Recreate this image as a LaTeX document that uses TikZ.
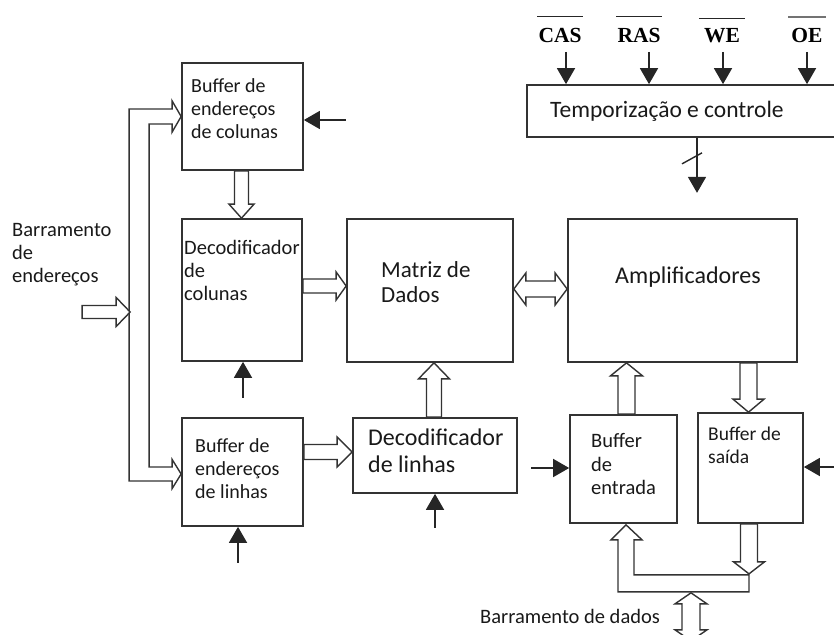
\documentclass[tikz,border=0pt]{standalone}
\usepackage{fontspec}
\setmainfont{Carlito}
\newfontfamily\sigfont{Liberation Serif}
\usetikzlibrary{arrows.meta,calc}

% hollow block arrow: tail, tip, shaft half-width, head half-width, head length
\newcommand\fatarrow[5]{%
  \coordinate (fa-hb) at ($(#2)!#5!(#1)$);
  \draw[fat] ($(#1)!#3!90:(#2)$) -- ($(fa-hb)!#3!90:(#2)$) -- ($(fa-hb)!#4!90:(#2)$) -- (#2)
    -- ($(fa-hb)!#4!-90:(#2)$) -- ($(fa-hb)!#3!-90:(#2)$) -- ($(#1)!#3!-90:(#2)$) -- cycle;}
% hollow block arrow with a head at both ends
\newcommand\fatdouble[5]{%
  \coordinate (fd-a) at ($(#1)!#5!(#2)$);
  \coordinate (fd-b) at ($(#2)!#5!(#1)$);
  \draw[fat] (#1) -- ($(fd-a)!#4!90:(#2)$) -- ($(fd-a)!#3!90:(#2)$) -- ($(fd-b)!#3!-90:(#1)$)
    -- ($(fd-b)!#4!-90:(#1)$) -- (#2) -- ($(fd-b)!#4!90:(#1)$) -- ($(fd-b)!#3!90:(#1)$)
    -- ($(fd-a)!#3!-90:(#2)$) -- ($(fd-a)!#4!-90:(#2)$) -- cycle;}
\newcommand\fsz[1]{\fontsize{#1}{#1}\selectfont}

\begin{document}
\begin{tikzpicture}[x=1pt,y=-1pt,
  blk/.style={draw=black!80, line width=1.7pt, fill=white, inner sep=0pt},
  fat/.style={draw=black!80, line width=1.4pt, fill=white, line join=miter},
  ctl/.style={draw=black!85, line width=1.6pt, -{Triangle[length=16pt,width=18pt]}},
  txt/.style={anchor=base west, inner sep=0pt, text=black!90},
  sig/.style={anchor=base, inner sep=0pt, font=\sigfont\bfseries\fsz{21.5}},
  bar/.style={draw=black!85, line width=1.4pt}]

\useasboundingbox (0,0) rectangle (834,634);
\clip (0,0) rectangle (834,634);

% blocks
\node[blk, minimum width=121pt, minimum height=107pt] (bcol) at (242.5,116.5) {};
\node[blk, minimum width=120pt, minimum height=142pt] (dcol) at (242,290) {};
\node[blk, minimum width=166pt, minimum height=143pt] (mat)  at (430,290.5) {};
\node[blk, minimum width=229pt, minimum height=143pt] (amp)  at (682.5,290.5) {};
\node[blk, minimum width=121pt, minimum height=108pt] (blin) at (242.5,472) {};
\node[blk, minimum width=164pt, minimum height=75pt]  (dlin) at (435,455.5) {};
\node[blk, minimum width=107pt, minimum height=108pt] (bent) at (623.5,469) {};
\node[blk, minimum width=105pt, minimum height=110pt] (bsai) at (750.5,468) {};
\node[blk, minimum width=313pt, minimum height=52pt]  (tmp)  at (683.5,111) {};

% block texts
\node[txt, font=\fsz{20}] (t-bcol-1) at (191,92)  {Buffer de};
\node[txt, font=\fsz{20}] (t-bcol-2) at (191,115) {endereços};
\node[txt, font=\fsz{20}] (t-bcol-3) at (191,138) {de colunas};
\node[txt, font=\fsz{20.5}] (t-dcol-1) at (184,254) {Decodificador};
\node[txt, font=\fsz{20.5}] (t-dcol-2) at (184,277) {de};
\node[txt, font=\fsz{20.5}] (t-dcol-3) at (184,300) {colunas};
\node[txt, font=\fsz{23}] (t-mat-1) at (381,277) {Matriz de};
\node[txt, font=\fsz{23}] (t-mat-2) at (381,302) {Dados};
\node[txt, font=\fsz{24}] (t-amp) at (615,283) {Amplificadores};
\node[txt, font=\fsz{20}] (t-blin-1) at (195,452) {Buffer de};
\node[txt, font=\fsz{20}] (t-blin-2) at (195,475) {endereços};
\node[txt, font=\fsz{20}] (t-blin-3) at (195,498) {de linhas};
\node[txt, font=\fsz{24}] (t-dlin-1) at (368,445) {Decodificador};
\node[txt, font=\fsz{24}] (t-dlin-2) at (368,472) {de linhas};
\node[txt, font=\fsz{20.5}] (t-bent-1) at (591,447) {Buffer};
\node[txt, font=\fsz{20.5}] (t-bent-2) at (591,471) {de};
\node[txt, font=\fsz{20.5}] (t-bent-3) at (591,494) {entrada};
\node[txt, font=\fsz{19.5}] (t-bsai-1) at (708,440) {Buffer de};
\node[txt, font=\fsz{19.5}] (t-bsai-2) at (708,463) {saída};
\node[txt, font=\fsz{23.5}] (t-tmp) at (550,117) {Temporização e controle};

% free labels
\node[txt, font=\fsz{20.5}] (l-end-1) at (12,236) {Barramento};
\node[txt, font=\fsz{20.5}] (l-end-2) at (12,259) {de};
\node[txt, font=\fsz{20.5}] (l-end-3) at (12,282) {endereços};
\node[txt, font=\fsz{20.5}] (l-dados) at (480,623) {Barramento de dados};

% control signals
\node[sig] (cas) at (560,42) {CAS};
\node[sig] (ras) at (639,42) {RAS};
\node[sig] (we)  at (722,43) {WE};
\node[sig] (oe)  at (807,42) {OE};
\draw[bar] ($(cas.north west)+(-1,-11)$) -- ($(cas.north east)+(1,-11)$);
\draw[bar] ($(ras.north west)+(-1,-11)$) -- ($(ras.north east)+(1,-11)$);
\draw[bar] ($(we.north west)+(-5,-10)$) -- ($(we.north east)+(5,-10)$);
\draw[bar, draw=black!55] ($(oe.north west)+(-3,-10.5)$) -- ($(oe.north east)+(3,-10.5)$);
\coordinate (s1) at (566,52);
\coordinate (s2) at (649,52);
\coordinate (s3) at (723,52);
\coordinate (s4) at (807,52);
\draw[ctl] (s1) -- (s1 |- tmp.north);
\draw[ctl] (s2) -- (s2 |- tmp.north);
\draw[ctl] (s3) -- (s3 |- tmp.north);
\draw[ctl] (s4) -- (s4 |- tmp.north);

% timing output (bus of control lines)
\coordinate (c7s) at ($(tmp.south)+(13.5,0)$);
\coordinate (c7e) at ($(c7s)+(0,55)$);
\draw[ctl] (c7s) -- (c7e);
\draw[bar] ($(c7s)+(-15,26)$) -- ($(c7s)+(5,15)$);

% control inputs of the blocks
\coordinate (c1e) at ($(bcol.east)+(0,3.5)$);
\coordinate (c1s) at ($(c1e)+(42,0)$);
\draw[ctl] (c1s) -- (c1e);
\coordinate (c2e) at ($(dcol.south)+(1,0)$);
\coordinate (c2s) at ($(c2e)+(0,36)$);
\draw[ctl] (c2s) -- (c2e);
\coordinate (c3e) at ($(blin.south)+(-4.5,0)$);
\coordinate (c3s) at ($(c3e)+(0,36)$);
\draw[ctl] (c3s) -- (c3e);
\coordinate (c4e) at (dlin.south);
\coordinate (c4s) at ($(c4e)+(0,34)$);
\draw[ctl] (c4s) -- (c4e);
\coordinate (c5e) at ($(bent.west)+(0,-1)$);
\coordinate (c5s) at ($(c5e)+(-38,0)$);
\draw[ctl] (c5s) -- (c5e);
\coordinate (c6e) at ($(bsai.east)+(0,-1)$);
\coordinate (c6s) at ($(c6e)+(40,0)$);
\draw[ctl] (c6s) -- (c6e);

% address bus
\coordinate (t1) at (bcol.west);
\coordinate (t2) at ($(blin.west)+(0,2)$);
\draw[fat] (t1) -- ($(t1)+(-9,15.5)$) -- ($(t1)+(-9,7.5)$) -- ($(t1)+(-32,7.5)$)
  -- ($(t2)+(-32,-7)$) -- ($(t2)+(-9,-7)$) -- ($(t2)+(-9,-14.5)$) -- (t2)
  -- ($(t2)+(-9,14.5)$) -- ($(t2)+(-9,7)$) -- ($(t2)+(-52,7)$) -- ($(t1)+(-52,-7.5)$)
  -- ($(t1)+(-9,-7.5)$) -- ($(t1)+(-9,-15.5)$) -- cycle;
\coordinate (ai2) at ($(t1)+(-51,195.5)$);
\coordinate (ai1) at ($(ai2)+(-48,0)$);
\fatarrow{ai1}{ai2}{6.5pt}{14.5pt}{14pt}

% internal data paths
\coordinate (a1s) at ($(bcol.south)+(-1,0)$);
\coordinate (a1e) at (a1s |- dcol.north);
\fatarrow{a1s}{a1e}{7pt}{12.5pt}{14pt}
\coordinate (a2s) at ($(dcol.east)+(0,-4)$);
\coordinate (a2e) at (a2s -| mat.west);
\fatarrow{a2s}{a2e}{7pt}{14pt}{10pt}
\coordinate (a3s) at ($(mat.east)+(0,-1.5)$);
\coordinate (a3e) at (a3s -| amp.west);
\fatdouble{a3s}{a3e}{8pt}{16pt}{12pt}
\coordinate (a4s) at ($(dlin.north)+(-1,0)$);
\coordinate (a4e) at (a4s |- mat.south);
\fatarrow{a4s}{a4e}{7.5pt}{15.5pt}{16pt}
\coordinate (a5s) at ($(blin.east)+(0,-20)$);
\coordinate (a5e) at (a5s -| dlin.west);
\fatarrow{a5s}{a5e}{7.5pt}{15pt}{15pt}
\coordinate (a6s) at ($(bsai.north |- amp.south)+(-2,0)$);
\coordinate (a6e) at (a6s |- bsai.north);
\fatarrow{a6s}{a6e}{8.5pt}{15.5pt}{13pt}
\coordinate (a7s) at ($(bent.north)+(3,0)$);
\coordinate (a7e) at (a7s |- amp.south);
\fatarrow{a7s}{a7e}{8.5pt}{16pt}{13pt}

% data bus
\coordinate (db) at ($(bent.south)+(2.5,1)$);
\draw[fat] (db) -- ++(16,15) -- ++(-8,0) -- ++(0,35) -- ++(115,0) -- ++(0,17)
  -- ++(-131,0) -- ++(0,-52) -- ++(-7,0) -- cycle;
\coordinate (a8s) at ($(bsai.south)+(-1.5,0)$);
\coordinate (a8e) at ($(a8s)+(0,50)$);
\fatarrow{a8s}{a8e}{8.5pt}{15.5pt}{12pt}
\coordinate (dd1) at ($(db)+(65,68)$);
\coordinate (dd2) at ($(dd1)+(0,48)$);
\fatdouble{dd1}{dd2}{9pt}{16pt}{11pt}

\end{tikzpicture}
\end{document}
